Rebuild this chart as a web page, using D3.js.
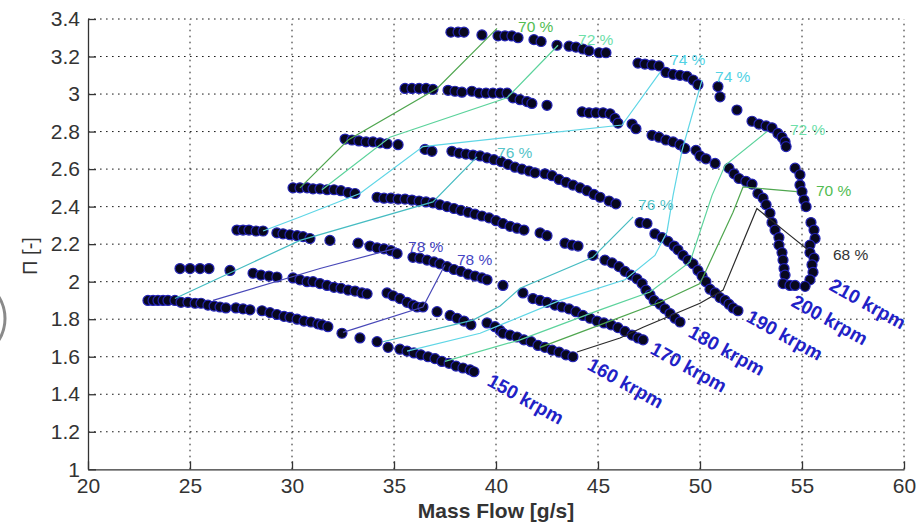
<!DOCTYPE html>
<html>
<head>
<meta charset="utf-8">
<script src="https://cdn.jsdelivr.net/npm/d3@7"></script>
<style>
  body { margin: 0; background: #fff; }
  svg { display: block; }
  text { font-family: "Liberation Sans", Arial, sans-serif; }
</style>
</head>
<body>
<svg id="chart" width="919" height="525"></svg>
<script>
// axis ticks
const xTicks = [20, 25, 30, 35, 40, 45, 50, 55, 60];
const yTicks = [1, 1.2, 1.4, 1.6, 1.8, 2, 2.2, 2.4, 2.6, 2.8, 3, 3.2, 3.4];

// measured speed lines [mass flow g/s, pressure ratio]
const speeds = [150, 160, 170, 180, 190, 200, 210];

const n150 = [[22.94,1.90],[23.19,1.90],[23.43,1.90],[23.68,1.90],[23.92,1.90],[24.26,1.90],[24.56,1.89],[24.90,1.89],
  [25.25,1.885],[25.54,1.885],[25.88,1.875],[26.18,1.87],[26.47,1.865],[26.76,1.86],[27.25,1.86],[27.60,1.855],[27.94,1.85],
  [28.53,1.845],[28.92,1.835],[29.26,1.825],[29.61,1.815],[29.90,1.81],[30.25,1.80],[30.59,1.79],[30.93,1.785],[31.27,1.775],
  [31.47,1.77],[31.76,1.76],[32.45,1.725],[33.33,1.70],[34.17,1.68],[34.71,1.65],[35.29,1.64],[35.64,1.63],[35.98,1.62],
  [36.32,1.61],[36.67,1.60],[37.01,1.59],[37.35,1.575],[37.70,1.565],[38.04,1.55],[38.38,1.54],[38.73,1.53],[38.92,1.52]];

const n160 = [[24.51,2.07],[25.00,2.07],[25.49,2.07],[25.93,2.07],[26.96,2.06],[28.09,2.045],[28.48,2.035],[28.87,2.03],
  [29.26,2.025],[30.05,2.02],[30.39,2.01],[30.74,2.00],[31.03,2.00],[31.37,1.99],[31.72,1.98],[32.06,1.97],[32.40,1.965],
  [32.75,1.955],[33.09,1.95],[33.43,1.94],[33.68,1.935],[34.66,1.94],[34.95,1.925],[35.29,1.91],[35.64,1.89],[35.93,1.875],
  [36.13,1.865],[36.42,1.865],[37.11,1.84],[37.75,1.82],[38.09,1.805],[38.43,1.79],[38.77,1.77],[39.56,1.78],[39.95,1.76],
  [40.20,1.74],[40.34,1.725],[40.69,1.715],[41.03,1.705],[41.37,1.69],[41.72,1.68],[42.06,1.66],[42.40,1.65],[42.75,1.635],
  [43.09,1.625],[43.43,1.61],[43.77,1.60]];

const n170 = [[27.30,2.275],[27.60,2.275],[27.89,2.275],[28.24,2.27],[28.58,2.27],[29.26,2.26],[29.56,2.255],[29.90,2.25],
  [30.25,2.245],[30.54,2.24],[30.88,2.23],[31.86,2.22],[33.24,2.205],[33.82,2.19],[34.17,2.18],[34.51,2.175],[34.85,2.165],
  [35.15,2.15],[35.93,2.13],[36.27,2.125],[36.62,2.115],[36.96,2.105],[37.25,2.095],[37.60,2.08],[37.94,2.065],[38.28,2.055],
  [38.63,2.04],[38.97,2.03],[39.31,2.02],[39.56,2.01],[40.34,1.98],[41.32,1.94],[41.81,1.91],[42.16,1.90],[42.50,1.89],
  [42.89,1.875],[43.24,1.865],[43.58,1.855],[43.92,1.84],[44.26,1.82],[44.61,1.805],[44.95,1.79],[45.29,1.78],[45.64,1.77],
  [45.98,1.755],[46.32,1.735],[46.67,1.715],[46.96,1.70],[47.21,1.69]];

const n180 = [[30.05,2.50],[30.39,2.50],[30.74,2.50],[31.03,2.495],[31.37,2.495],[31.72,2.49],[32.06,2.49],[32.40,2.485],
  [32.75,2.475],[33.09,2.47],[34.17,2.45],[34.51,2.445],[34.85,2.445],[35.20,2.44],[35.54,2.44],[35.88,2.435],[36.23,2.43],
  [36.57,2.425],[36.91,2.42],[37.25,2.41],[37.60,2.40],[37.94,2.39],[38.28,2.38],[38.63,2.37],[38.97,2.36],[39.31,2.35],
  [39.66,2.34],[40.00,2.325],[40.34,2.31],[40.69,2.295],[41.03,2.285],[41.37,2.275],[42.16,2.26],[42.50,2.245],[43.38,2.205],
  [43.73,2.195],[44.02,2.19],[44.75,2.14],[45.34,2.115],[45.69,2.10],[46.03,2.08],[46.32,2.055],[46.62,2.035],[46.91,2.015],
  [47.16,1.99],[47.35,1.955],[47.55,1.93],[47.75,1.90],[48.04,1.88],[48.28,1.855],[48.53,1.83],[48.77,1.805],[49.02,1.785]];

const n190 = [[32.60,2.76],[32.94,2.755],[33.28,2.75],[33.63,2.745],[33.97,2.745],[34.31,2.74],[34.66,2.735],[35.20,2.73],
  [36.52,2.705],[36.86,2.695],[37.84,2.695],[38.19,2.685],[38.53,2.68],[38.87,2.675],[39.22,2.67],[39.56,2.66],[39.90,2.65],
  [40.25,2.64],[40.59,2.625],[40.93,2.61],[41.27,2.60],[41.62,2.59],[41.91,2.58],[42.40,2.575],[42.75,2.565],[43.09,2.545],
  [43.43,2.53],[43.77,2.515],[44.12,2.50],[44.46,2.485],[44.80,2.465],[45.10,2.45],[45.54,2.43],[45.88,2.415],[47.06,2.315],
  [47.40,2.31],[47.79,2.255],[48.14,2.235],[48.43,2.215],[48.73,2.19],[48.92,2.17],[49.17,2.14],[49.41,2.115],[49.66,2.095],
  [49.90,2.06],[50.10,2.03],[50.29,2.00],[50.49,1.96],[50.74,1.94],[50.98,1.915],[51.23,1.90],[51.42,1.88],[51.62,1.86],
  [51.86,1.845]];

const n200 = [[35.54,3.03],[35.88,3.03],[36.23,3.03],[36.57,3.03],[36.91,3.025],[37.65,3.02],[37.99,3.015],[38.33,3.01],
  [38.82,3.015],[39.17,3.005],[39.51,3.005],[39.85,3.005],[40.20,3.005],[40.54,3.005],[40.83,2.98],[41.18,2.97],[41.52,2.96],
  [41.76,2.95],[42.50,2.94],[44.22,2.905],[44.56,2.90],[44.90,2.90],[45.25,2.90],[45.59,2.895],[45.83,2.87],[45.98,2.845],
  [46.67,2.84],[46.86,2.815],[47.65,2.78],[47.99,2.77],[48.33,2.755],[48.68,2.745],[49.02,2.73],[49.26,2.71],[49.80,2.70],
  [50.00,2.67],[50.29,2.655],[50.74,2.63],[51.42,2.605],[51.67,2.575],[51.91,2.55],[52.25,2.535],[52.55,2.52],[52.84,2.47],
  [53.09,2.445],[53.24,2.41],[53.43,2.365],[53.53,2.315],[53.68,2.275],[53.87,2.235],[53.87,2.195],[54.02,2.155],[54.07,2.115],
  [54.12,2.07],[54.17,2.035],[54.07,1.99],[54.41,1.98],[54.66,1.98]];

const n210 = [[37.79,3.33],[38.14,3.33],[38.43,3.33],[39.31,3.315],[40.10,3.31],[40.44,3.31],[40.78,3.31],[41.08,3.30],
  [41.86,3.29],[42.21,3.28],[42.99,3.26],[43.58,3.255],[43.92,3.25],[44.26,3.24],[44.56,3.23],[45.05,3.22],[45.39,3.22],
  [46.96,3.165],[47.30,3.16],[47.65,3.155],[47.99,3.15],[48.33,3.115],[48.68,3.105],[49.02,3.10],[49.36,3.095],[49.66,3.075],
  [49.90,3.05],[50.88,3.04],[50.98,2.985],[51.81,2.915],[52.55,2.855],[52.89,2.84],[53.24,2.83],[53.53,2.82],[53.82,2.79],
  [54.02,2.77],[54.17,2.745],[54.22,2.72],[54.66,2.605],[54.90,2.57],[54.90,2.515],[55.00,2.48],[55.10,2.435],[55.20,2.40],
  [55.44,2.315],[55.59,2.275],[55.64,2.23],[55.39,2.195],[55.39,2.155],[55.59,2.125],[55.49,2.09],[55.54,2.05],[55.39,2.01],
  [55.15,1.975]];

const speedLines = [n150, n160, n170, n180, n190, n200, n210];

// iso-efficiency lines [mass flow, pressure ratio]
const eta70Left  = [[30.39,2.50],[32.75,2.755],[37.11,3.03],[40.05,3.35]];
const eta72Left  = [[31.47,2.49],[34.80,2.77],[40.54,2.98],[43.04,3.26]];
const eta74Left  = [[28.58,2.27],[30.39,2.345],[33.33,2.47],[36.42,2.72],[46.18,2.835],[48.04,3.115]];
const eta76Left  = [[24.26,1.91],[30.39,2.22],[36.91,2.425],[39.07,2.665]];
const eta78Upper = [[26.13,1.90],[31.37,2.07],[35.15,2.18]];
const eta78Lower = [[32.50,1.73],[36.42,1.865],[37.50,2.09]];
const eta76Right = [[34.46,1.68],[38.87,1.795],[40.20,1.87],[41.18,1.965],[44.75,2.13],[46.72,2.345]];
const eta74Right = [[35.64,1.63],[39.22,1.725],[43.14,1.90],[46.32,2.01],[47.79,2.14],[48.38,2.265],[48.68,2.46],[49.12,2.70],[50.10,3.075]];
const eta72Right = [[37.50,1.575],[41.18,1.69],[45.10,1.85],[47.55,1.945],[49.51,2.105],[50.59,2.46],[51.23,2.62],[53.28,2.80]];
const eta70Right = [[42.16,1.65],[45.10,1.77],[48.04,1.89],[50.00,1.99],[51.62,2.37],[52.11,2.505],[54.75,2.48]];
const eta68      = [[43.97,1.625],[46.08,1.70],[47.21,1.757],[50.00,1.885],[51.13,1.955],[52.79,2.39],[54.26,2.26],[55.29,2.17]];

const etaPct   = [70, 72, 74, 76, 78, 78, 76, 74, 72, 70, 68];
const etaLines = [eta70Left, eta72Left, eta74Left, eta76Left, eta78Upper, eta78Lower,
                  eta76Right, eta74Right, eta72Right, eta70Right, eta68];

// layout / styles
const etaLabelShift = [[21,4],[20,0],[10,-7],[20,1],[11,4],[12,0],[5,-7],[13,2],[23,3],[19,4],[25,10]];
const speedLabelShift = [[12,13],[13,12],[6,13],[7,14],[7,10],[-5,20],[23,3]];
const etaLineCol  = {68: '#2a2a2a', 70: '#4fa64f', 72: '#5cd39c', 74: '#5fd6e6', 76: '#46bcc2', 78: '#4848b8'};
const etaLabelCol = {68: '#333333', 70: '#52bd52', 72: '#6ee0aa', 74: '#52d2e4', 76: '#55c4c8', 78: '#4646c4'};

const svg = d3.select('#chart');
const x = d3.scaleLinear().domain([20, 60]).range([88, 904]);
const y = d3.scaleLinear().domain([1, 3.4]).range([469.3, 19]);

// grid
const grid = svg.append('g').attr('stroke', '#1a1a1a').attr('stroke-width', 1).attr('stroke-dasharray', '1.6,4.4');
grid.selectAll('.gx').data(xTicks.slice(1)).join('line')
  .attr('x1', d => x(d)).attr('x2', d => x(d)).attr('y1', y(1)).attr('y2', y(3.4));
grid.selectAll('.gy').data(yTicks.slice(1)).join('line')
  .attr('x1', x(20)).attr('x2', x(60)).attr('y1', d => y(d)).attr('y2', d => y(d));

// measured points
const dots = svg.append('g');
speedLines.forEach(pts => {
  dots.append('g').selectAll('circle').data(pts).join('circle')
    .attr('cx', d => x(d[0])).attr('cy', d => y(d[1])).attr('r', 5)
    .attr('fill', '#08081e').attr('stroke', '#2323b4').attr('stroke-width', 1.2);
});

// efficiency lines
const line = d3.line().x(d => x(d[0])).y(d => y(d[1]));
const eff = svg.append('g').attr('fill', 'none');
etaLines.forEach((pts, i) => {
  eff.append('path').attr('d', line(pts))
    .attr('stroke', etaLineCol[etaPct[i]]).attr('stroke-width', 1.2);
  const end = pts[pts.length - 1];
  svg.append('text')
    .attr('x', x(end[0]) + etaLabelShift[i][0]).attr('y', y(end[1]) + etaLabelShift[i][1])
    .attr('font-size', 15.5).attr('fill', etaLabelCol[etaPct[i]])
    .text(etaPct[i] + ' %');
});

// speed labels
speedLines.forEach((pts, i) => {
  const end = pts[pts.length - 1];
  const px = x(end[0]) + speedLabelShift[i][0], py = y(end[1]) + speedLabelShift[i][1];
  svg.append('text')
    .attr('transform', `translate(${px},${py}) rotate(29)`)
    .attr('font-size', 19).attr('font-weight', 'bold').attr('fill', '#2121c6')
    .text(speeds[i] + ' krpm');
});

// axes
const fmt = d => d3.format('.1f')(d).replace(/\.0$/, '');
const xAxis = svg.append('g').attr('transform', `translate(0,${y(1)})`)
  .call(d3.axisBottom(x).tickValues(xTicks).tickSizeInner(-8).tickSizeOuter(0).tickPadding(9).tickFormat(fmt));
const yAxis = svg.append('g').attr('transform', `translate(${x(20)},0)`)
  .call(d3.axisLeft(y).tickValues(yTicks).tickSizeInner(-8).tickSizeOuter(0).tickPadding(8).tickFormat(fmt));
[xAxis, yAxis].forEach(g => {
  g.attr('font-family', '"Liberation Sans", Arial, sans-serif').attr('font-size', 21);
  g.select('.domain').attr('stroke', '#333').attr('stroke-width', 1.3);
  g.selectAll('.tick line').attr('stroke', '#333').attr('stroke-width', 1.3);
  g.selectAll('.tick text').attr('fill', '#333');
});

svg.append('text').attr('x', 496).attr('y', 518).attr('text-anchor', 'middle')
  .attr('font-size', 21).attr('font-weight', 'bold').attr('fill', '#333')
  .text('Mass Flow [g/s]');
svg.append('text').attr('transform', 'translate(37,256) rotate(-90)').attr('text-anchor', 'middle')
  .attr('font-size', 20).attr('fill', '#333')
  .text('Π [-]');

// cropped edge of a neighbouring figure
svg.append('path').attr('d', 'M-1,297 A41.5,41.5 0 0 1 -1,340')
  .attr('fill', 'none').attr('stroke', '#8a8a8a').attr('stroke-width', 3);
</script>
</body>
</html>
